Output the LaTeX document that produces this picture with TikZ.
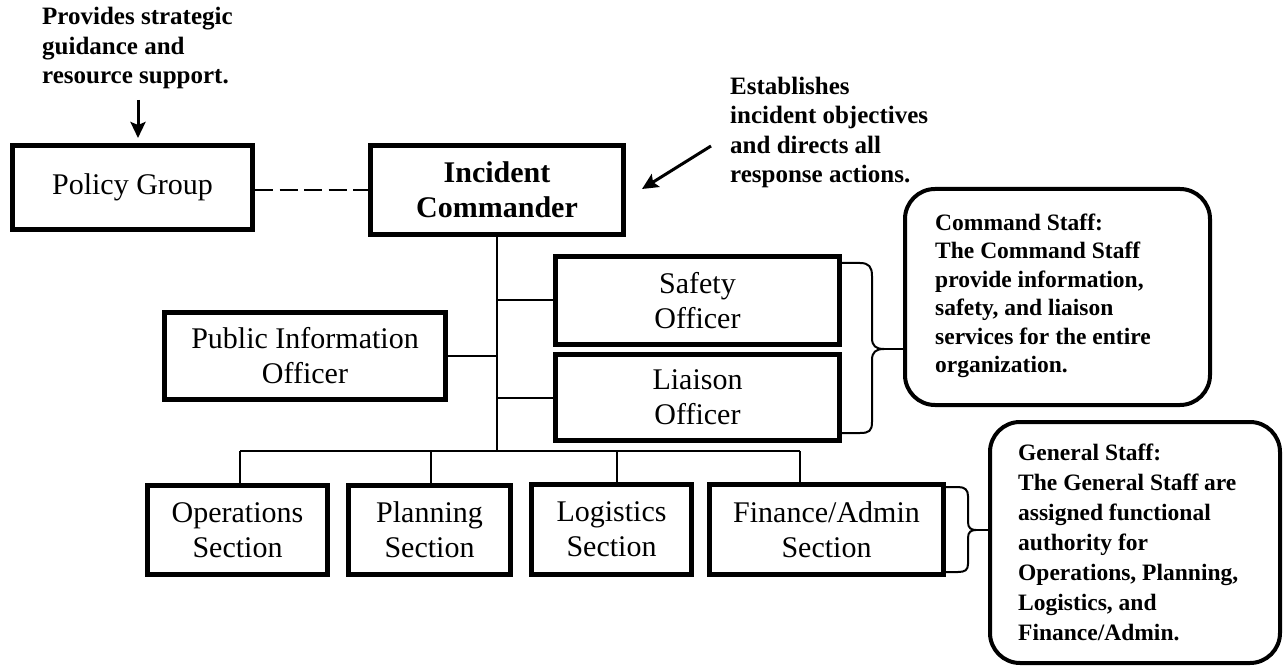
\documentclass[tikz,border=0pt]{standalone}
\usepackage{fontspec}
\setmainfont{Liberation Serif}
\usetikzlibrary{arrows.meta}
\begin{document}
\begin{tikzpicture}[x=1pt,y=-1pt,
  orgbox/.style={draw, line width=5pt, inner sep=0pt, align=center, font=\fontsize{30}{35}\selectfont},
  conn/.style={line width=2pt},
  note/.style={inner sep=0pt, align=left, anchor=base west, font=\bfseries\fontsize{25}{29.5}\selectfont},
  staffbox/.style={draw, line width=4pt, rounded corners=30pt, inner sep=0pt},
  stafftext/.style={inner sep=0pt, align=left, anchor=base west, font=\bfseries\fontsize{23.5}{28.5}\selectfont},
  bracket/.style={line width=2pt},
  ptr/.style={line width=3pt, -{Stealth[length=16pt,width=15pt,inset=3pt]}}]
\useasboundingbox (0,0) rectangle (1283,668);
\fill[white] (0,0) rectangle (1283,668);

% annotations (anchor = baseline of last line)
\node[note] (pgnote) at (42,84) {Provides strategic\\guidance and\\resource support.};
\node[note] (icnote) at (730,183) {Establishes\\incident objectives\\and directs all\\response actions.};

% boxes
\node[orgbox, minimum width=240pt, minimum height=84pt] (pg) at (132.5,187.5) {Policy Group};
\node[orgbox, minimum width=253pt, minimum height=89pt, font=\bfseries\fontsize{30}{35}\selectfont] (ic) at (497,190) {Incident\\Commander};
\node[orgbox, minimum width=284pt, minimum height=88pt] (safety) at (697.5,300.5) {Safety\\Officer};
\node[orgbox, minimum width=284pt, minimum height=86pt] (liaison) at (697.5,397.5) {Liaison\\Officer};
\node[orgbox, minimum width=281pt, minimum height=87pt] (pio) at (305,356) {Public Information\\Officer};
\node[orgbox, minimum width=180pt, minimum height=89pt] (ops) at (237.5,530) {Operations\\Section};
\node[orgbox, minimum width=162pt, minimum height=89pt] (plan) at (429.5,530) {Planning\\Section};
\node[orgbox, minimum width=160pt, minimum height=90pt] (logi) at (611.5,529.5) {Logistics\\Section};
\node[orgbox, minimum width=234pt, minimum height=90pt] (fin) at (826.5,529.5) {Finance/Admin\\Section};

% staff boxes
\node[staffbox, minimum width=305pt, minimum height=216pt] (cs) at (1057.5,297) {};
\node[stafftext] (cstext) at (935,373) {Command Staff:\\The Command Staff\\provide information,\\safety, and liaison\\services for the entire\\organization.};
\node[staffbox, minimum width=290pt, minimum height=241pt] (gs) at (1135,542.5) {};
\node[stafftext, font=\bfseries\fontsize{23.5}{30}\selectfont] (gstext) at (1018,640) {General Staff:\\The General Staff are\\assigned functional\\authority for\\Operations, Planning,\\Logistics, and\\Finance/Admin.};

% arrows
\coordinate (pgA) at (138,100);
\coordinate (pgB) at (138,138);
\draw[ptr] (pgA) -- (pgB);
\coordinate (icA) at (711,146);
\coordinate (icB) at (642,189);
\draw[ptr] (icA) -- (icB);

% connectors
\draw[conn, dash pattern=on 18pt off 6.5pt] (pg.east |- ic.west) -- (ic.west);
\coordinate (bar) at (ic.south |- 0,451);
\draw[conn] (ic.south) -- (bar);
\draw[conn] (safety.west -| ic.south) -- (safety.west);
\draw[conn] (liaison.west -| ic.south) -- (liaison.west);
\draw[conn] (pio.east) -- (pio.east -| ic.south);
\coordinate (dOps) at (240,451);
\coordinate (dPlan) at (431,451);
\coordinate (dLogi) at (617,451);
\coordinate (dFin) at (800,451);
\draw[conn] (dOps) -- (dFin);
\draw[conn] (dOps) -- (dOps |- ops.north);
\draw[conn] (dPlan) -- (dPlan |- plan.north);
\draw[conn] (dLogi) -- (dLogi |- logi.north);
\draw[conn] (dFin) -- (dFin |- fin.north);

% braces
\draw[bracket] (842,263) -- (860,263) .. controls (869,263) and (872,267) .. (872,276) -- (872,338)
  .. controls (872,346) and (876,349) .. (884,349) .. controls (876,349) and (872,352) .. (872,360)
  -- (872,422) .. controls (872,431) and (869,433) .. (860,433) -- (842,433);
\draw[bracket] (884,349) -- (cs.west |- 0,349);
\draw[bracket] (946,487) -- (958,487) .. controls (965,487) and (968,490) .. (968,496) -- (968,522)
  .. controls (968,528) and (971,530) .. (976,530) .. controls (971,530) and (968,532) .. (968,538)
  -- (968,564) .. controls (968,570) and (965,572) .. (958,572) -- (946,572);
\draw[bracket] (976,530) -- (gs.west |- 0,530);
\end{tikzpicture}
\end{document}
